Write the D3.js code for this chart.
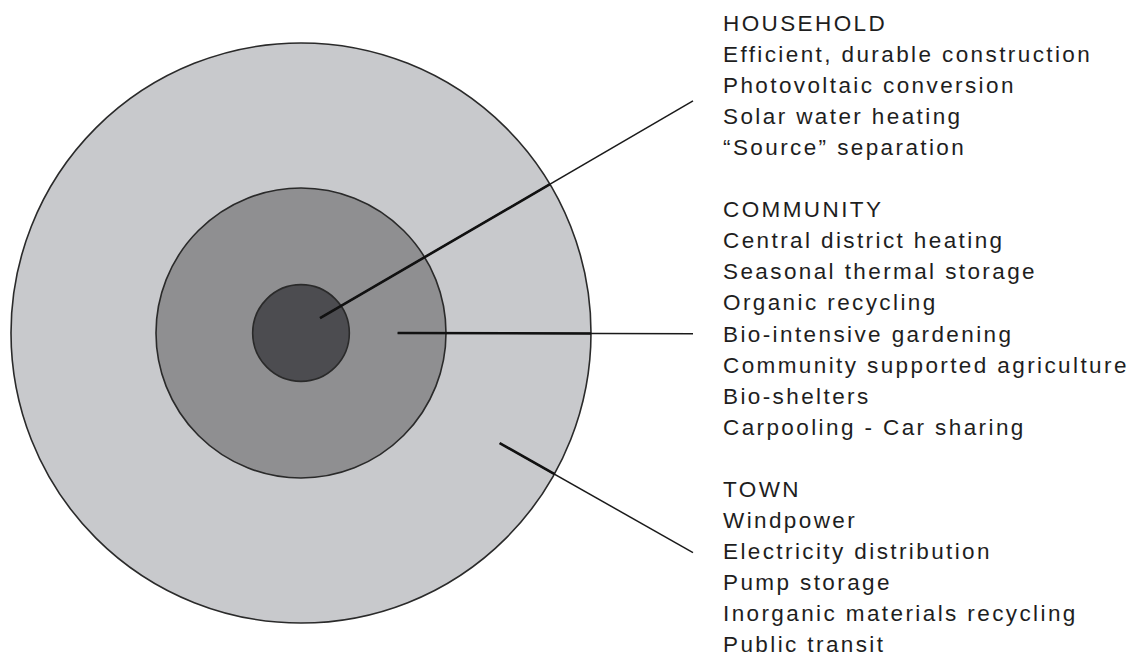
<!DOCTYPE html>
<html>
<head>
<meta charset="utf-8">
<script src="https://cdn.jsdelivr.net/npm/d3@7"></script>
<style>
  body { margin: 0; background: #fff; }
  .label { font-family: "Liberation Sans", Arial, sans-serif; font-size: 22.5px; letter-spacing: 2.4px; fill: #1e1e1e; }
</style>
</head>
<body>
<div id="chart"></div>
<script>
// Svg set up
var svgWidth = 1138;
var svgHeight = 659;

// rings from the centre out, relative extent of each
var rings = ["HOUSEHOLD", "COMMUNITY", "TOWN"];
var ringExtent = [1, 3, 6];
var ringFill = ["#4c4c50", "#8f8f91", "#c8c9cc"];

// items listed under each ring
var household = ["Efficient, durable construction", "Photovoltaic conversion", "Solar water heating", "\u201cSource\u201d separation"];
var community = ["Central district heating", "Seasonal thermal storage", "Organic recycling", "Bio-intensive gardening",
  "Community supported agriculture", "Bio-shelters", "Carpooling - Car sharing"];
var town = ["Windpower", "Electricity distribution", "Pump storage", "Inorganic materials recycling", "Public transit"];
var ringItems = [household, community, town];

// leader lines: start (in ring units / degrees), end row in the text list
var leaderStart = [0.5, 2, 4.7];
var leaderAngle = [-38, 0, 29];
var leaderRow = [2.25, 9.75, 16.8];

var svg = d3.select("#chart")
  .append("svg")
  .attr("width", svgWidth)
  .attr("height", svgHeight);

var cx = 301, cy = 333;

var rScale = d3.scaleLinear()
  .domain([0, 6])
  .range([0, 290]);

// build text rows: header then items, blank row between groups
var rows = [];
ringItems.forEach(function(items, i) {
  if (i > 0) rows.push(null);
  rows.push({ text: rings[i], head: true });
  items.forEach(function(t) { rows.push({ text: t, head: false }); });
});

var rowY = d3.scaleLinear()
  .domain([0, rows.length - 1])
  .range([31, 652]);

var textX = 723;

// circles, largest first
var circleGroup = svg.append("g");
circleGroup.selectAll("circle")
  .data(d3.range(rings.length).reverse())
  .enter()
  .append("circle")
  .attr("cx", cx)
  .attr("cy", cy)
  .attr("r", d => rScale(ringExtent[d]))
  .attr("fill", d => ringFill[d])
  .attr("stroke", "#2a2a2a")
  .attr("stroke-width", 1.6);

// clip for the heavier part of the leader lines
svg.append("clipPath")
  .attr("id", "outerClip")
  .append("circle")
  .attr("cx", cx)
  .attr("cy", cy)
  .attr("r", rScale(ringExtent[2]));

var leaders = d3.range(rings.length).map(function(i) {
  var a = leaderAngle[i] * Math.PI / 180;
  var r = rScale(leaderStart[i]);
  return {
    x1: cx + r * Math.cos(a),
    y1: cy + r * Math.sin(a),
    x2: 693,
    y2: rowY(leaderRow[i])
  };
});

svg.append("g").selectAll("line")
  .data(leaders)
  .enter()
  .append("line")
  .attr("x1", d => d.x1)
  .attr("y1", d => d.y1)
  .attr("x2", d => d.x2)
  .attr("y2", d => d.y2)
  .attr("stroke", "#1a1a1a")
  .attr("stroke-width", 1.5);

svg.append("g")
  .attr("clip-path", "url(#outerClip)")
  .selectAll("line")
  .data(leaders)
  .enter()
  .append("line")
  .attr("x1", d => d.x1)
  .attr("y1", d => d.y1)
  .attr("x2", d => d.x2)
  .attr("y2", d => d.y2)
  .attr("stroke", "#111")
  .attr("stroke-width", 2.6);

// labels
svg.append("g").selectAll("text")
  .data(rows.map((d, i) => ({ d: d, i: i })).filter(r => r.d))
  .enter()
  .append("text")
  .attr("class", "label")
  .attr("x", textX)
  .attr("y", r => rowY(r.i))
  .text(r => r.d.text);
</script>
</body>
</html>
